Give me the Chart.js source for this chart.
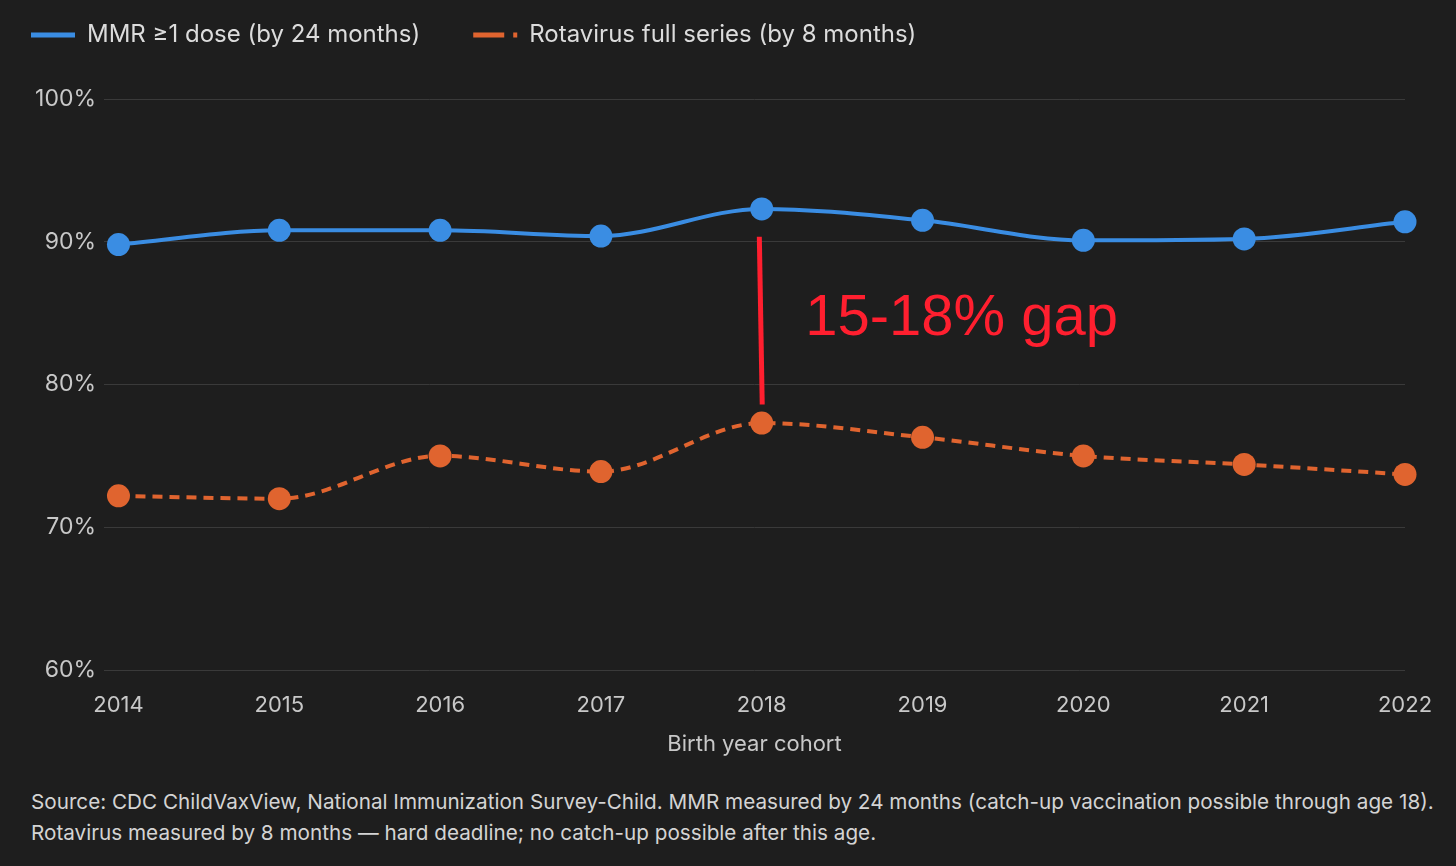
<!doctype html>
<html>
  <head>
    <script src="https://cdn.jsdelivr.net/npm/chart.js"></script>
    <meta name="viewport" content="width=device-width, initial-scale=1" />
    <link rel="icon" href="data:," />
    <style>
      html, body {
        margin: 0;
        padding: 0;
        background: #1e1e1e;
        font-family: Inter, "Noto Sans", sans-serif;
      }
      #wrap {
        position: relative;
        width: 1456px;
        height: 780px;
      }
      #note {
        position: absolute;
        left: 31px;
        top: 786px;
        margin: 0;
        color: #d4d4d4;
        font-size: 20.7px;
        line-height: 31px;
        white-space: nowrap;
      }
    </style>
  </head>
  <body>
    <div id="wrap"><canvas id="gapChart"></canvas></div>
    <p id="note">
      Source: CDC ChildVaxView, National Immunization Survey-Child. MMR measured by 24 months (catch-up vaccination possible through age 18).<br />
      Rotavirus measured by 8 months — hard deadline; no catch-up possible after this age.
    </p>
    <script>
      // birth year cohorts
      const years = [2014, 2015, 2016, 2017, 2018, 2019, 2020, 2021, 2022];
      // coverage %
      const mmr = [89.8, 90.8, 90.8, 90.4, 92.3, 91.5, 90.1, 90.2, 91.4];
      const rota = [72.2, 72.0, 75.0, 73.9, 77.3, 76.3, 75.0, 74.4, 73.7];
      const yTicks = [60, 70, 80, 90, 100];

      // gap callout (data units)
      const gapYear = 2018;
      const gapTop = 90.35;
      const gapBottom = 78.6;
      const gapLabel = "15-18% gap";
      const gapLabelX = 2018.27;
      const gapLabelY = 83.5;

      const blue = "#3a8de3";
      const orange = "#e0642f";
      const red = "#ff1f2f";

      const gapCallout = {
        id: "gapCallout",
        afterDatasetsDraw(chart) {
          const { ctx, scales } = chart;
          const x = scales.x, y = scales.y;
          ctx.save();
          ctx.strokeStyle = red;
          ctx.lineWidth = 5;
          ctx.beginPath();
          ctx.moveTo(x.getPixelForValue(gapYear - 0.015), y.getPixelForValue(gapTop));
          ctx.lineTo(x.getPixelForValue(gapYear + 0.003), y.getPixelForValue(gapBottom));
          ctx.stroke();
          ctx.fillStyle = red;
          ctx.font = '58px "Liberation Sans", Arial, sans-serif';
          ctx.textBaseline = "alphabetic";
          ctx.fillText(gapLabel, x.getPixelForValue(gapLabelX), y.getPixelForValue(gapLabelY));
          ctx.restore();
        },
      };

      // push the plot down below the legend
      const legendGap = {
        id: "legendGap",
        beforeInit(chart) {
          const fit = chart.legend.fit;
          chart.legend.fit = function () {
            fit.bind(chart.legend)();
            this.height += 42;
          };
        },
      };

      const ctx = document.getElementById("gapChart").getContext("2d");
      const gapChart = new Chart(ctx, {
        type: "line",
        data: {
          datasets: [
            {
              label: "MMR ≥1 dose (by 24 months)",
              data: years.map((yr, i) => ({ x: yr, y: mmr[i] })),
              borderColor: blue,
              backgroundColor: blue,
              borderWidth: 4,
              pointRadius: 11.5,
              pointHoverRadius: 11.5,
              pointBorderWidth: 0,
              cubicInterpolationMode: "monotone",
              clip: false,
            },
            {
              label: "Rotavirus full series (by 8 months)",
              data: years.map((yr, i) => ({ x: yr, y: rota[i] })),
              borderColor: orange,
              backgroundColor: orange,
              borderWidth: 4,
              borderDash: [10, 7],
              pointRadius: 11.5,
              pointHoverRadius: 11.5,
              pointBorderWidth: 0,
              cubicInterpolationMode: "monotone",
              clip: false,
            },
          ],
        },
        options: {
          responsive: true,
          maintainAspectRatio: false,
          animation: false,
          layout: { padding: { top: -30, right: 51, left: -22, bottom: 6 } },
          plugins: {
            tooltip: { enabled: false },
            legend: {
              position: "top",
              align: "start",
              labels: {
                color: "#dcdcdc",
                font: { family: "Inter", size: 24 },
                usePointStyle: true,
                pointStyle: "line",
                pointStyleWidth: 44,
                padding: 53,
                generateLabels(chart) {
                  const items = Chart.defaults.plugins.legend.labels.generateLabels(chart);
                  items.forEach((it, i) => {
                    it.pointStyle = "line";
                    it.lineWidth = 5;
                    it.lineDash = i === 1 ? [31, 9] : [];
                  });
                  return items;
                },
              },
            },
          },
          scales: {
            x: {
              type: "linear",
              min: 2013.91,
              max: 2022,
              afterFit(scale) {
                scale.height = 104;
              },
              grid: { display: false },
              border: { display: false },
              ticks: {
                stepSize: 1,
                includeBounds: false,
                color: "#c8c8c8",
                font: { family: "Inter", size: 22 },
                padding: 14,
                callback: (v) => String(v),
              },
              title: {
                display: true,
                text: "Birth year cohort",
                color: "#c8c8c8",
                font: { family: "Inter", size: 22 },
                padding: { top: 0, bottom: 16 },
              },
            },
            y: {
              min: 60,
              max: 100,
              afterFit(scale) {
                scale.width = 126;
              },
              afterBuildTicks(scale) {
                scale.ticks = yTicks.map((v) => ({ value: v }));
              },
              grid: { color: "#3a3a3a", drawTicks: false, lineWidth: 1 },
              border: { display: false },
              ticks: {
                color: "#c8c8c8",
                font: { family: "Inter", size: 23 },
                padding: 8,
                callback: (v) => v + "%",
              },
            },
          },
        },
        plugins: [gapCallout, legendGap],
      });
    </script>
  </body>
</html>
